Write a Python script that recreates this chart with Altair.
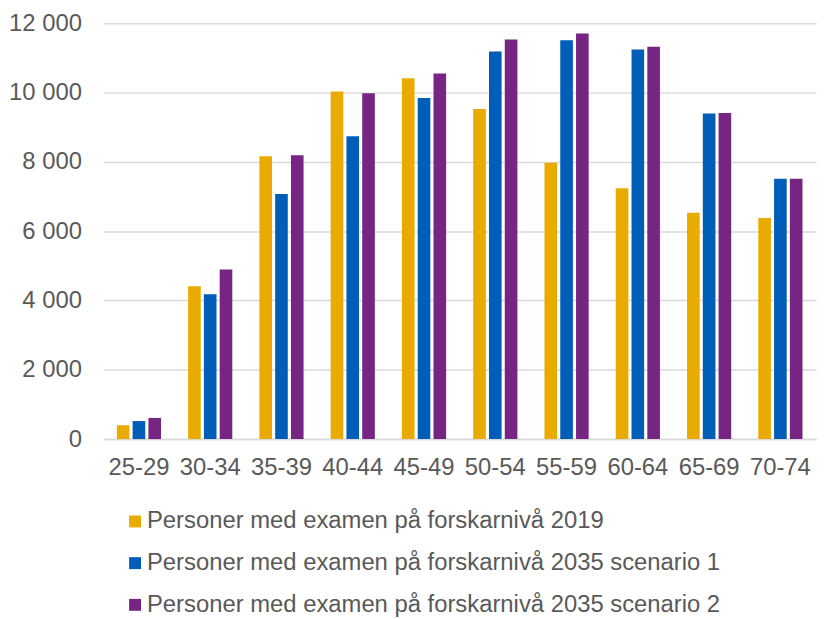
import altair as alt
import pandas as pd

categories = ["25-29", "30-34", "35-39", "40-44", "45-49", "50-54", "55-59", "60-64", "65-69", "70-74"]
series_names = [
    "Personer med examen på forskarnivå 2019",
    "Personer med examen på forskarnivå 2035 scenario 1",
    "Personer med examen på forskarnivå 2035 scenario 2",
]
values_2019 = [400, 4410, 8160, 10030, 10410, 9520, 7970, 7240, 6530, 6380]
values_s1 = [520, 4180, 7070, 8740, 9840, 11180, 11510, 11240, 9390, 7510]
values_s2 = [610, 4890, 8190, 9980, 10550, 11530, 11700, 11320, 9410, 7510]
colors = ["#EAAB00", "#005EB8", "#772583"]

rows = []
for name, vals in zip(series_names, [values_2019, values_s1, values_s2]):
    for c, v in zip(categories, vals):
        rows.append({"Ålder": c, "Serie": name, "Antal": v})
df = pd.DataFrame(rows)

FONT = "Liberation Sans"
GREY = "#595959"

chart = alt.Chart(df).mark_bar().encode(
    x=alt.X("Ålder:N", sort=categories,
            scale=alt.Scale(paddingInner=0.38, paddingOuter=0.19),
            axis=alt.Axis(title=None, labelAngle=0, ticks=False, tickSize=0,
                          labelPadding=17, labelFontSize=24, labelColor=GREY,
                          labelFont=FONT, domainColor="#d9d9d9", domainWidth=1.5,
                          grid=False)),
    xOffset=alt.XOffset("Serie:N", sort=series_names,
                        scale=alt.Scale(paddingInner=0.2, paddingOuter=0)),
    y=alt.Y("Antal:Q", scale=alt.Scale(domain=[0, 12000], nice=False),
            axis=alt.Axis(title=None, values=[0, 2000, 4000, 6000, 8000, 10000, 12000],
                          labelExpr="replace(format(datum.value, ','), ',', ' ')",
                          ticks=False, tickSize=0, domain=False, labelPadding=22,
                          labelFontSize=24, labelColor=GREY, labelFont=FONT,
                          gridColor="#d9d9d9", gridWidth=1.5)),
    color=alt.Color("Serie:N", sort=series_names,
                    scale=alt.Scale(domain=series_names, range=colors),
                    legend=alt.Legend(title=None, orient="none", legendX=20, legendY=490,
                                      direction="vertical", symbolType="square",
                                      symbolSize=144, symbolStrokeWidth=0,
                                      labelFontSize=24, labelColor=GREY, labelFont=FONT,
                                      labelOffset=0, rowPadding=18, padding=0,
                                      labelLimit=700)),
).properties(
    width=718, height=419,
    autosize=alt.AutoSizeParams(type="none"),
    padding={"left": 96, "top": 13, "right": 4, "bottom": 178},
).configure_view(stroke=None)

chart.save("out.html", embed_options={"renderer": "svg", "actions": False})
